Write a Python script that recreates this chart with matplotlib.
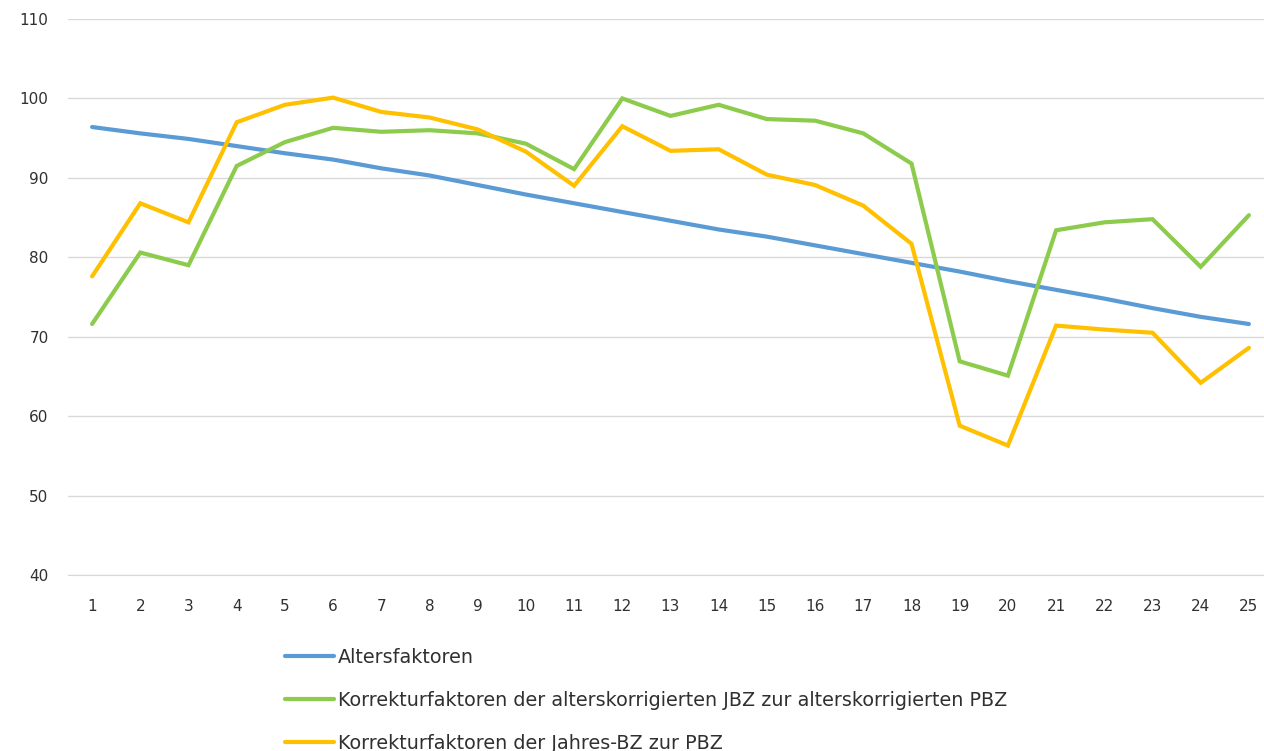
import matplotlib
matplotlib.use("Agg")
import matplotlib.pyplot as plt

categories = list(range(1, 26))

altersfaktoren = [96.4, 95.6, 94.9, 94.0, 93.1, 92.3, 91.2, 90.3, 89.1, 87.9,
                  86.8, 85.7, 84.6, 83.5, 82.6, 81.5, 80.4, 79.3, 78.2, 77.0,
                  75.9, 74.8, 73.6, 72.5, 71.6]
korr_alterskorr = [71.6, 80.6, 79.0, 91.5, 94.5, 96.3, 95.8, 96.0, 95.6, 94.3,
                   91.1, 100.0, 97.8, 99.2, 97.4, 97.2, 95.6, 91.8, 66.9, 65.1,
                   83.4, 84.4, 84.8, 78.8, 85.3]
korr_jahres = [77.6, 86.8, 84.4, 97.0, 99.2, 100.1, 98.3, 97.6, 96.1, 93.3,
               89.0, 96.5, 93.4, 93.6, 90.4, 89.1, 86.5, 81.7, 58.8, 56.3,
               71.4, 70.9, 70.5, 64.2, 68.6]

labels = ["Altersfaktoren",
          "Korrekturfaktoren der alterskorrigierten JBZ zur alterskorrigierten PBZ",
          "Korrekturfaktoren der Jahres-BZ zur PBZ"]
colors = ["#5B9BD5", "#8CCB4C", "#FFC000"]
yticks = [40, 50, 60, 70, 80, 90, 100, 110]

fig = plt.figure(figsize=(12.64, 7.51), dpi=100)
ax = fig.add_axes([68/1264, 1 - 575/751, 1205/1264, 556/751])

for vals, c, lab in zip([altersfaktoren, korr_alterskorr, korr_jahres], colors, labels):
    ax.plot(categories, vals, color=c, lw=3.0, label=lab, solid_capstyle="round",
            solid_joinstyle="miter")

ax.set_xlim(0.5, 25.5)
ax.set_ylim(40, 110)
ax.set_yticks(yticks)
ax.set_xticks(categories)
ax.grid(axis="y", color="#D9D9D9", lw=1)
ax.set_axisbelow(True)
for s in ["top", "right", "left"]:
    ax.spines[s].set_visible(False)
ax.spines["bottom"].set_color("#D9D9D9")
ax.tick_params(axis="both", length=0, labelsize=11, colors="#303030")
ax.tick_params(axis="y", pad=14)
ax.tick_params(axis="x", pad=17)

handles, labs = ax.get_legend_handles_labels()
leg = fig.legend(handles, labs, loc="upper left", bbox_to_anchor=(285/1264, 1 - 648/751),
                 frameon=False, prop={"family": "DejaVu Sans", "size": 13.8},
                 handlelength=2.55, handletextpad=0.2, labelspacing=1.24,
                 borderpad=0, borderaxespad=0)
for t in leg.get_texts():
    t.set_color("#303030")

fig.savefig("out.png", dpi=100, facecolor="white")
